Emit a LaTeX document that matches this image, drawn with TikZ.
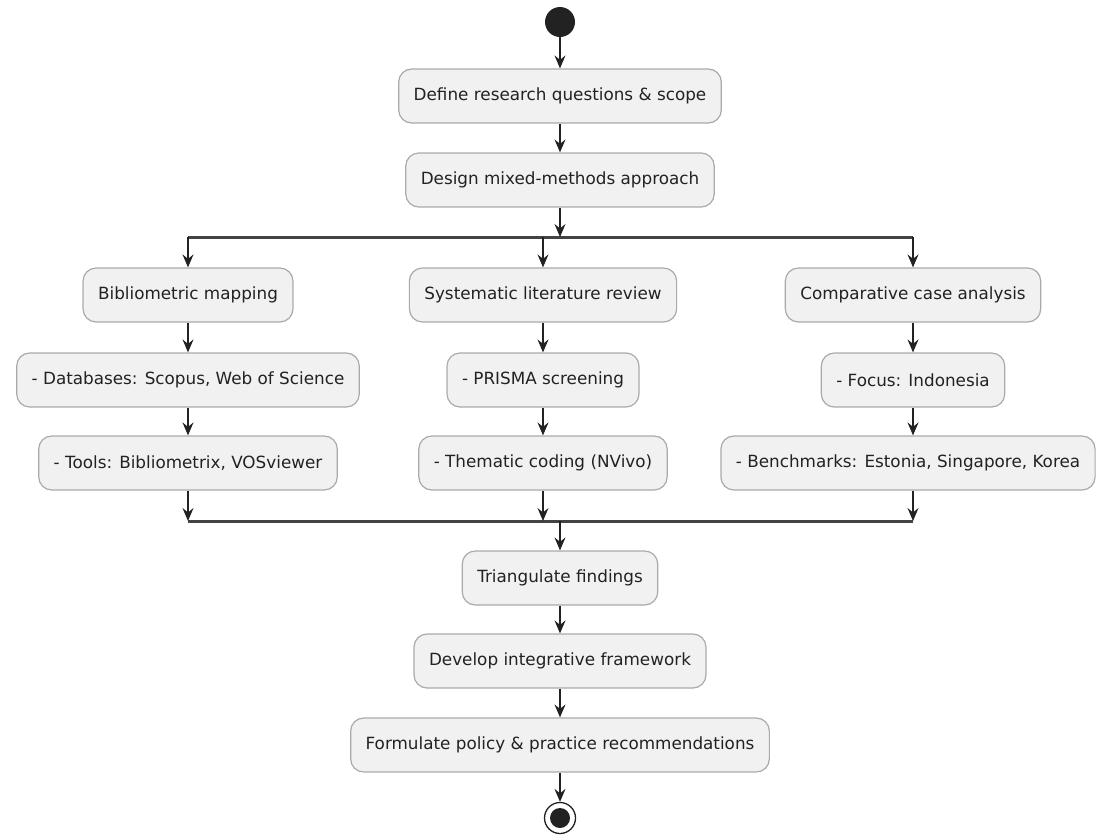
\documentclass[tikz,border=0pt]{standalone}
\usepackage{fontspec}
\setmainfont{DejaVu Sans}
\usetikzlibrary{arrows.meta}
\definecolor{actfill}{HTML}{F1F1F1}
\definecolor{actline}{HTML}{AAAAAA}
\definecolor{flow}{HTML}{222222}

\begin{document}
\begin{tikzpicture}[x=1pt,y=-1pt,
    act/.style={draw=actline,fill=actfill,rounded corners=13pt,line width=1.2pt,
      minimum height=54pt,inner xsep=15pt,text=flow,font=\fontsize{16.8}{20}\selectfont},
    flowto/.style={draw=flow,line width=1.3pt,-{Stealth[length=13pt,width=11pt,inset=4.5pt]}},
    bar/.style={draw=flow!85,line width=3pt}]
  \useasboundingbox (0,0) rectangle (1099,835);
  % start and main line
  \node[fill=flow,circle,inner sep=0pt,minimum size=30pt] (start) at (560,22) {} ;
  \node[act] (define) at (560,96) {Define research questions \& scope} ;
  \node[act] (design) at (560,180) {Design mixed-methods approach} ;
  % fork
  \coordinate (forkL) at (188,237) ;
  \coordinate (forkR) at (913,237) ;
  \draw[bar] (forkL) -- (forkR) ;
  % three branches
  \node[act] (biblio) at (188,295) {Bibliometric mapping} ;
  \node[act] (dbase) at (188,380) {- Databases: Scopus, Web of Science} ;
  \node[act] (tools) at (188,463) {- Tools: Bibliometrix, VOSviewer} ;
  \node[act] (review) at (543,295) {Systematic literature review} ;
  \node[act] (prisma) at (543,380) {- PRISMA screening} ;
  \node[act] (coding) at (543,463) {- Thematic coding (NVivo)} ;
  \node[act] (cases) at (913,295) {Comparative case analysis} ;
  \node[act] (focus) at (913,380) {- Focus: Indonesia} ;
  \node[act] (bench) at (908,463) {- Benchmarks: Estonia, Singapore, Korea} ;
  % join
  \coordinate (joinL) at (188,521) ;
  \coordinate (joinR) at (913,521) ;
  \draw[bar] (joinL) -- (joinR) ;
  \node[act] (triang) at (560,578) {Triangulate findings} ;
  \node[act] (develop) at (560,661) {Develop integrative framework} ;
  \node[act] (policy) at (560,745) {Formulate policy \& practice recommendations} ;
  \node[circle,draw=flow,line width=1.3pt,inner sep=0pt,minimum size=31pt] %
    (stop) at (560,818) {} ;
  \fill[flow] (stop) circle (10pt) ;
  % connectors
  \draw[flowto] (start) -- (define) ;
  \draw[flowto] (define) -- (design) ;
  \draw[flowto] (design) -- (design |- forkL) ;
  \draw[flowto] (forkL) -- (biblio) ;
  \draw[flowto] (review |- forkL) -- (review) ;
  \draw[flowto] (forkR) -- (cases) ;
  \draw[flowto] (biblio) -- (dbase) ;
  \draw[flowto] (dbase) -- (tools) ;
  \draw[flowto] (review) -- (prisma) ;
  \draw[flowto] (prisma) -- (coding) ;
  \draw[flowto] (cases) -- (focus) ;
  \draw[flowto] (focus.south) -- (focus.south |- bench.north) ;
  \draw[flowto] (tools) -- (joinL) ;
  \draw[flowto] (coding) -- (coding |- joinL) ;
  \draw[flowto] (bench.south -| joinR) -- (joinR) ;
  \draw[flowto] (triang |- joinL) -- (triang) ;
  \draw[flowto] (triang) -- (develop) ;
  \draw[flowto] (develop) -- (policy) ;
  \draw[flowto] (policy) -- (stop) ;
\end{tikzpicture}
\end{document}
